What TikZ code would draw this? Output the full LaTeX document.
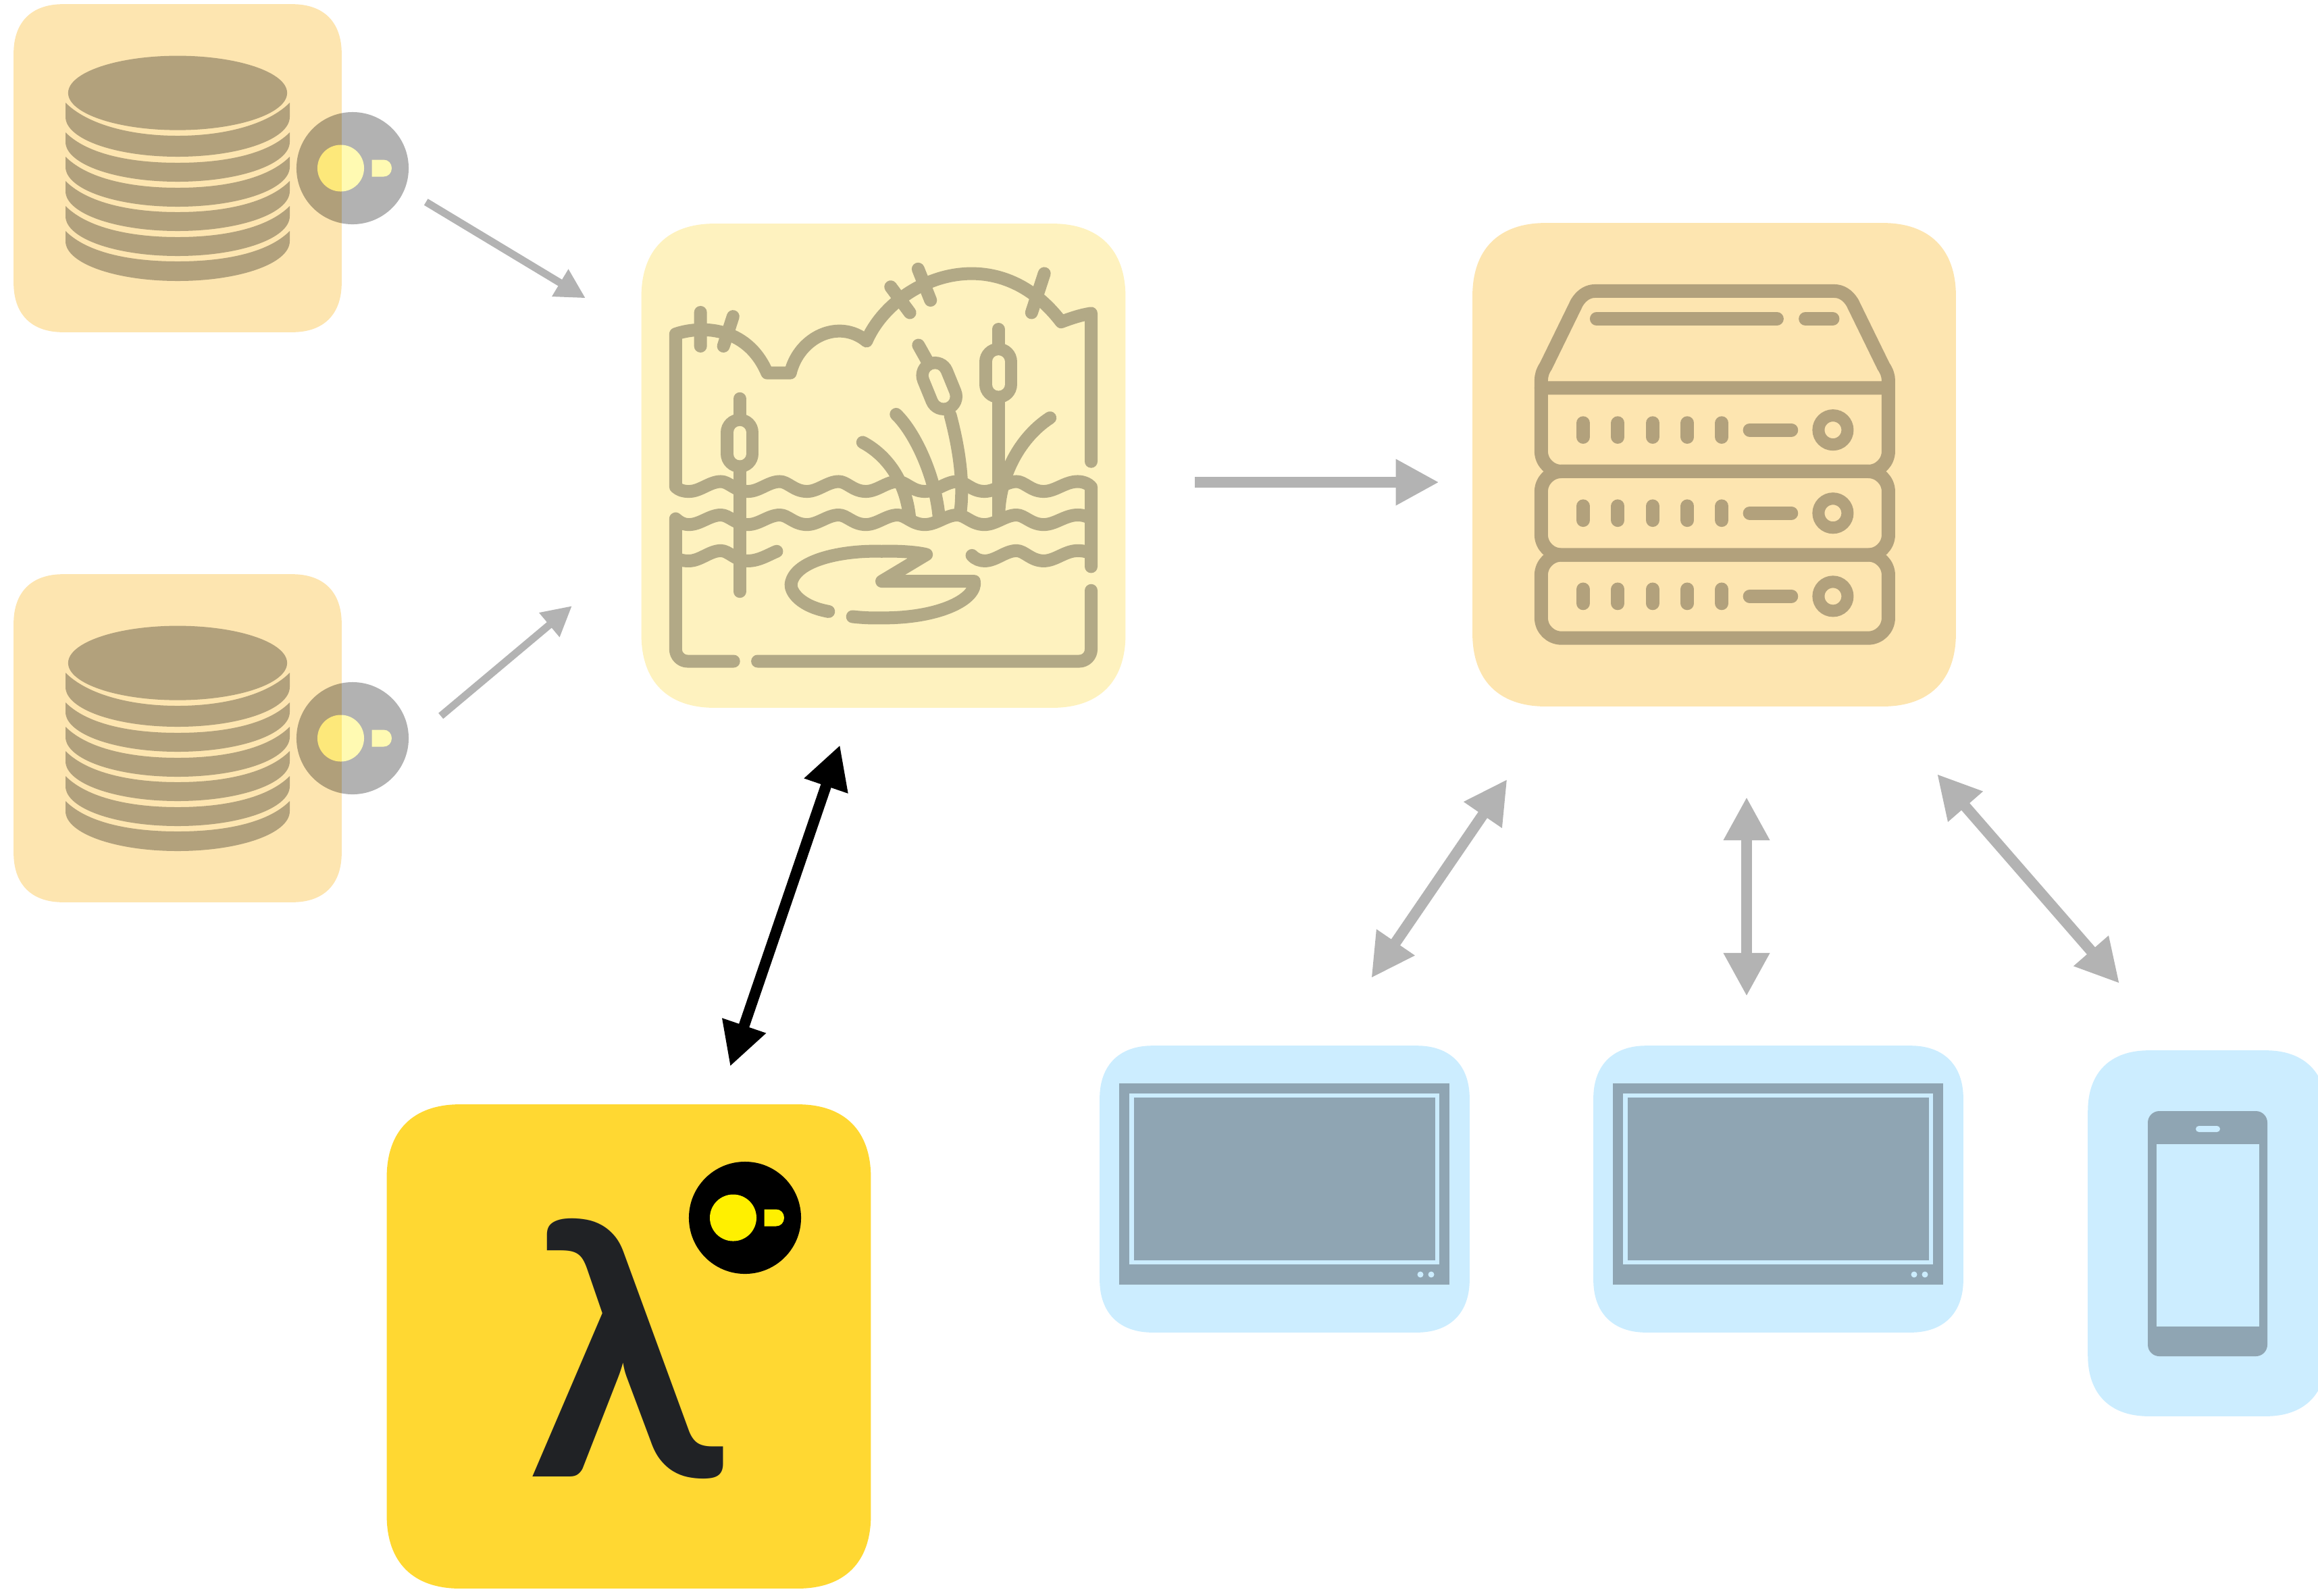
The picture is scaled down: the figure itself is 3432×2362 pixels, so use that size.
\documentclass[tikz,border=0pt]{standalone}
\usepackage{fontspec}
\usetikzlibrary{arrows.meta}
\newfontfamily\lambdafont{Lato}
\definecolor{dbfill}{HTML}{FDE5B0}
\definecolor{dbink}{HTML}{B2A17C}
\definecolor{lakefill}{HTML}{FEF2BF}
\definecolor{lakeink}{HTML}{B2A986}
\definecolor{lamfill}{HTML}{FFD832}
\definecolor{lamink}{HTML}{202225}
\definecolor{devfill}{HTML}{CCEDFF}
\definecolor{devink}{HTML}{8FA5B3}
\definecolor{flowgray}{HTML}{B3B3B3}
\definecolor{sensoryellow}{HTML}{FFF000}
\tikzset{
  flow/.style={draw=flowgray,line width=.16cm,>={Triangle[length=.64cm,width=.64cm]}},
  flowthin/.style={draw=flowgray,line width=.11cm,>={Triangle[length=.44cm,width=.44cm]}},
  lakeline/.style={draw=lakeink,line width=.19cm,line cap=round,line join=round},
  rackline/.style={draw=dbink,line width=.2cm,line cap=round,line join=round},
  sensor/.pic={
    \fill[black] (0,0) circle[radius=.83cm];
    \fill[sensoryellow] (-17.5,0) circle[radius=.345cm];
    \fill[sensoryellow] (28.5,-12.5) -- (46,-12.5) .. controls (53,-12.5) and (58,-7) .. (58,0)
      .. controls (58,7) and (53,12.5) .. (46,12.5) -- (28.5,12.5) -- cycle;
  }
}
% one row of crests between two troughs
\newcommand{\wavebits}[3]{\foreach \tx in {#3} {
  .. controls (\tx+35,#2) and (\tx+65,#1) .. (\tx+100,#1)
  .. controls (\tx+125,#1) and (\tx+145,#2) .. (\tx+185,#2)}}
\begin{document}
\begin{tikzpicture}[x=.01cm,y=-.01cm]
  \useasboundingbox (0,0) rectangle (3432,2362);
  \clip (0,0) rectangle (3432,2362);

  % cards
  \foreach \nm/\col/\cx/\cy/\bw/\bh/\ee/\kk in {
      dbA/dbfill/263/249/4.84/4.84/.73/.265,
      dbB/dbfill/263/1093/4.84/4.84/.73/.265,
      lake/lakefill/1308/689.5/7.15/7.15/1.08/.39,
      server/dbfill/2538/688/7.14/7.14/1.08/.39,
      lam/lamfill/931/1993.5/7.15/7.15/1.08/.39,
      screenA/devfill/1902/1760.5/5.46/4.23/.78/.29,
      screenB/devfill/2633/1760.5/5.46/4.23/.78/.29,
      phone/devfill/3268/1826/3.52/5.4/.9/.33} {
    \node[inner sep=0pt,minimum width=\bw cm,minimum height=\bh cm] (\nm) at (\cx,\cy) {};
    \fill[\col] ([yshift=-\ee cm]\nm.north west) .. controls ([yshift=-\kk cm]\nm.north west) and ([xshift=\kk cm]\nm.north west) .. ([xshift=\ee cm]\nm.north west)
      -- ([xshift=-\ee cm]\nm.north east) .. controls ([xshift=-\kk cm]\nm.north east) and ([yshift=-\kk cm]\nm.north east) .. ([yshift=-\ee cm]\nm.north east)
      -- ([yshift=\ee cm]\nm.south east) .. controls ([yshift=\kk cm]\nm.south east) and ([xshift=-\kk cm]\nm.south east) .. ([xshift=-\ee cm]\nm.south east)
      -- ([xshift=\ee cm]\nm.south west) .. controls ([xshift=\kk cm]\nm.south west) and ([yshift=\kk cm]\nm.south west) .. ([yshift=\ee cm]\nm.south west) -- cycle;
  }

  % database stacks
  \foreach \dy in {0,844} {
    \begin{scope}[shift={(0,\dy)}]
      \fill[dbink] (263,137.6) ellipse[x radius=1.62cm,y radius=.55cm];
      \foreach \T/\A/\S/\B in {152/201/173/232,196/241/210/269,232/278/247/306,268/314/283/342,305/351/320/379,342/387/357/416} {
        \fill[dbink] (97,\T) .. controls (130,\T+33) and (195,\A) .. (263,\A)
          .. controls (331,\A) and (396,\T+33) .. (429,\T) -- (429,\S)
          .. controls (429,\S+33) and (355,\B) .. (263,\B)
          .. controls (171,\B) and (97,\S+33) .. (97,\S) -- cycle;
      }
      \begin{scope}[transparency group,opacity=.3]
        \pic at (522,249) {sensor};
      \end{scope}
    \end{scope}
  }

  % lake
  \begin{scope}[shift={(940,320)},x=.00472cm,y=-.00472cm]
    \draw[lakeline] (1432,770) -- (1432,305) .. controls (1400,310) and (1370,320) .. (1338,332)
      .. controls (1130,60) and (810,200) .. (727,392) .. controls (640,320) and (515,380) .. (488,492)
      -- (415,492) .. controls (350,340) and (200,345) .. (128,370) -- (128,850)
      .. controls (140,860) and (150,864) .. (170,864) \wavebits{833}{864}{170,355,540,725,912,1098}
      .. controls (1320,864) and (1350,833) .. (1390,833) .. controls (1410,833) and (1425,842) .. (1432,850) -- (1432,1100);
    \draw[lakeline] (1432,1175) -- (1432,1360) .. controls (1432,1380) and (1415,1397) .. (1395,1397) -- (385,1397);
    \draw[lakeline] (310,1397) -- (165,1397) .. controls (145,1397) and (128,1380) .. (128,1360) -- (128,950)
      .. controls (140,960) and (150,968) .. (170,968) \wavebits{938}{968}{170,355,540,725,912,1098}
      .. controls (1320,968) and (1350,938) .. (1390,938) .. controls (1410,938) and (1425,945) .. (1432,950);
    \draw[lakeline] (128,1070) .. controls (140,1080) and (150,1082) .. (170,1082) \wavebits{1050}{1082}{170}
      .. controls (390,1082) and (420,1062) .. (445,1052);
    \draw[lakeline] (1058,1065) .. controls (1070,1078) and (1085,1082) .. (1098,1082) \wavebits{1050}{1082}{1098}
      .. controls (1320,1082) and (1350,1050) .. (1390,1050) .. controls (1410,1050) and (1425,1055) .. (1432,1060);
    % sky ticks
    \draw[lakeline] (206,302) -- (206,408) (308,315) -- (278,408) (803,222) -- (863,303)
      (889,166) -- (928,264) (1285,180) -- (1245,303);
    % cattails
    \foreach \xa/\ya/\xb/\yb in {329/679/329/746,1141/457/1141/528,942/500/969/566} {
      \draw[lakeink,line width=.558cm,line cap=round] (\xa,\ya) -- (\xb,\yb);
      \draw[lakefill,line width=.19cm,line cap=round] (\xa,\ya) -- (\xb,\yb);
    }
    \draw[lakeline] (329,573) -- (329,625) (329,800) -- (329,1178);
    \draw[lakeline] (1141,355) -- (1141,405) (1141,580) -- (1141,955);
    \draw[lakeline] (890,405) -- (918,455);
    \draw[lakeline] (990,625) .. controls (1010,700) and (1035,820) .. (1022,925);
    % reeds
    \draw[lakeline] (715,710) .. controls (790,750) and (850,830) .. (862,945);
    \draw[lakeline] (820,622) .. controls (880,680) and (945,820) .. (955,950);
    \draw[lakeline] (1303,633) .. controls (1200,700) and (1140,830) .. (1142,950);
    % lily pad
    \draw[lakeline] (608,1241) .. controls (520,1225) and (488,1180) .. (490,1155)
      .. controls (500,1080) and (650,1048) .. (775,1052) .. controls (830,1050) and (890,1055) .. (915,1062)
      -- (775,1146) -- (1065,1146) .. controls (1075,1200) and (960,1262) .. (775,1261)
      .. controls (740,1262) and (710,1260) .. (683,1257);
  \end{scope}

  % server rack
  \begin{scope}[shift={(2160,330)},x=.004847cm,y=-.004719cm]
    \draw[rackline] (251,518) -- (251,495) .. controls (251,480) and (255,465) .. (265,450) -- (360,250)
      .. controls (375,225) and (395,214) .. (415,214) -- (1145,214)
      .. controls (1165,214) and (1185,225) .. (1200,250) -- (1295,450)
      .. controls (1305,465) and (1310,480) .. (1310,495) -- (1310,518) -- cycle;
    \draw[rackline,rounded corners=.3cm] (251,518) -- (251,780) -- (1310,780) -- (1310,518);
    \draw[rackline,rounded corners=.3cm] (251,780) -- (251,1042) -- (1310,1042) -- (1310,780) -- cycle;
    \draw[rackline,rounded corners=.3cm] (251,1042) -- (251,1303) -- (1310,1303) -- (1310,1042) -- cycle;
    \draw[rackline] (420,301) -- (970,301) (1057,301) -- (1140,301);
    \foreach \ry in {650,911,1172} {
      \foreach \rx in {379,485,591,697,802} {
        \draw[rackline] (\rx,\ry-22) -- (\rx,\ry+22);
      }
      \draw[rackline] (887,\ry) -- (1014,\ry);
      \draw[dbink,line width=.18cm] (1141,\ry) circle[radius=.215cm];
    }
  \end{scope}

  % lambda
  \node[inner sep=0pt,text=lamink,font=\lambdafont\bfseries\fontsize{149}{149}\selectfont] (lamglyph) at (926,1997) {λ};
  \pic at (1103,1803) {sensor};

  % screens
  \foreach \dx in {0,731} {
    \begin{scope}[shift={(\dx,0)}]
      \fill[devink] (1657,1604) rectangle (2146,1902);
      \fill[devfill] (1672,1619) rectangle (2131,1872);
      \fill[devink] (1678.5,1625) rectangle (2125,1866);
      \fill[devfill] (2103,1887) circle[radius=.045cm] (2119,1887) circle[radius=.045cm];
    \end{scope}
  }

  % phone
  \fill[devink,rounded corners=.17cm] (3180,1645) rectangle (3357,2008);
  \fill[devfill] (3193,1694) rectangle (3345,1964);
  \fill[devfill,rounded corners=.045cm] (3251,1667) rectangle (3287,1676);

  % connector ends
  \coordinate (dbAout) at (630.7,299);
  \coordinate (lakeinA) at (867,441.4);
  \coordinate (dbBout) at (652.7,1060);
  \coordinate (lakeinB) at (847,897);
  \coordinate (lakeout) at (1769,714);
  \coordinate (serverin) at (2130.7,714);
  \coordinate (lakelam) at (1243.7,1103);
  \coordinate (lamlake) at (1081,1579);
  \coordinate (serverA) at (2231.5,1153.7);
  \coordinate (devA) at (2030.3,1448);
  \coordinate (serverB) at (2586,1180);
  \coordinate (devB) at (2586,1475);
  \coordinate (serverC) at (2868,1146);
  \coordinate (devC) at (3138,1456);

  \draw[flowthin,->] (dbAout) -- (lakeinA);
  \draw[flowthin,->] (dbBout) -- (lakeinB);
  \draw[flow,->] (lakeout) -- (serverin);
  \draw[flow,<->,draw=black] (lakelam) -- (lamlake);
  \draw[flow,<->] (serverA) -- (devA);
  \draw[flow,<->] (serverB) -- (devB);
  \draw[flow,<->] (serverC) -- (devC);
\end{tikzpicture}
\end{document}
